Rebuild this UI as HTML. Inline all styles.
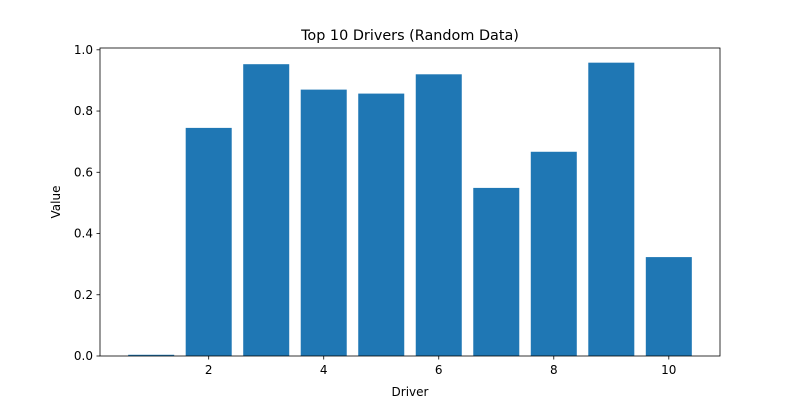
<!DOCTYPE html>
<html><head><meta charset="utf-8"><style>
body{margin:0;background:#fff}
svg{display:block;font-family:"DejaVu Sans","Liberation Sans",sans-serif}
</style></head><body>
<svg id="chart" width="800" height="400"></svg>
<script>
const categories=[1,2,3,4,5,6,7,8,9,10];
const values=[0.004,0.745,0.953,0.870,0.857,0.920,0.549,0.667,0.958,0.323];
const yTicks=[0,0.2,0.4,0.6,0.8,1.0];
const yTickLabels=["0.0","0.2","0.4","0.6","0.8","1.0"];
const xTicks=[2,4,6,8,10];

const L=100,R=720,T=48,B=356;
const xmin=0.11,xmax=10.89;
const ymax=Math.max(...values)*1.05;
const ns="http://www.w3.org/2000/svg";
const svg=document.getElementById('chart');
const X=v=>L+(v-xmin)/(xmax-xmin)*(R-L);
const Y=v=>B-v/ymax*(B-T);
function el(t,a,txt){const e=document.createElementNS(ns,t);for(const k in a)e.setAttribute(k,a[k]);if(txt!==undefined)e.textContent=txt;svg.appendChild(e);return e;}

categories.forEach((c,i)=>{
  const r=el('rect',{x:X(c-0.4),y:Y(values[i]),width:X(c+0.4)-X(c-0.4),height:B-Y(values[i]),fill:'#1f77b4'});
  
  
});
const frame=el('rect',{x:L,y:T,width:R-L,height:B-T,fill:'none',stroke:'#000','stroke-width':0.8});


yTicks.forEach((v,i)=>{
  el('line',{x1:L-3.5,x2:L,y1:Y(v),y2:Y(v),stroke:'#000','stroke-width':0.8});
  const t=el('text',{x:L-7,y:Y(v)+4,'text-anchor':'end','font-size':12},yTickLabels[i]);
  
  
});
xTicks.forEach(v=>{
  el('line',{x1:X(v),x2:X(v),y1:B,y2:B+3.5,stroke:'#000','stroke-width':0.8});
  const t=el('text',{x:X(v),y:B+18,'text-anchor':'middle','font-size':12},String(v));
  
  
});
const title=el('text',{x:(L+R)/2,y:40,'text-anchor':'middle','font-size':14.4},'Top 10 Drivers (Random Data)');


const xt=el('text',{x:(L+R)/2,y:396,'text-anchor':'middle','font-size':12},'Driver');


const yt=el('text',{x:0,y:0,'text-anchor':'middle','font-size':12,transform:'translate(60,'+((T+B)/2)+') rotate(-90)'},'Value');


</script>
</body></html>
